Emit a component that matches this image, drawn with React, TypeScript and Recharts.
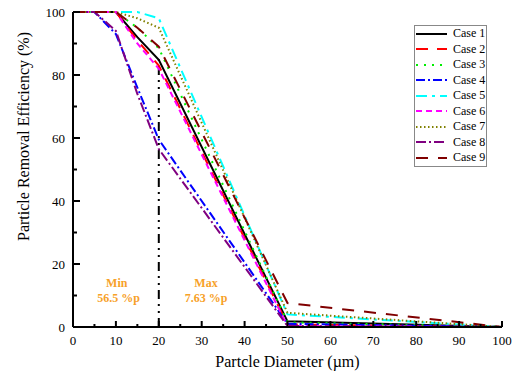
import React from "react"
import { LineChart, Line, XAxis, YAxis, Legend, ReferenceLine, ReferenceDot } from "recharts"

const DIAMETERS = [0, 5, 10, 15, 20, 50, 100]
const CASE_1 = [100, 100, 100, 92, 84.8, 1.8, 0]
const CASE_2 = [100, 100, 100, 91, 83, 0.8, 0]
const CASE_3 = [100, 100, 100, 95, 88.5, 1.5, 0]
const CASE_4 = [100, 100, 93, 76, 59.5, 1.0, 0]
const CASE_5 = [100, 100, 100, 100, 98, 4.0, 0]
const CASE_6 = [100, 100, 100, 90, 82, 0.3, 0]
const CASE_7 = [100, 100, 100, 98, 95, 4.5, 0]
const CASE_8 = [100, 100, 94, 74, 56.5, 0.3, 0]
const CASE_9 = [100, 100, 100, 95, 89, 7.6, 0]

const X_TICKS = [0, 5, 10, 15, 20, 25, 30, 35, 40, 45, 50, 55, 60, 65, 70, 75, 80, 85, 90, 95, 100]
const Y_TICKS = [0, 10, 20, 30, 40, 50, 60, 70, 80, 90, 100]

const SERIES = [
  { key: "c1", name: "Case 1", values: CASE_1, color: "#000000", dash: undefined },
  { key: "c2", name: "Case 2", values: CASE_2, color: "#ff0000", dash: "12 9" },
  { key: "c3", name: "Case 3", values: CASE_3, color: "#00ee00", dash: "2 6" },
  { key: "c4", name: "Case 4", values: CASE_4, color: "#0000ff", dash: "9 3 2 3" },
  { key: "c5", name: "Case 5", values: CASE_5, color: "#00ffff", dash: "11 5 3 5" },
  { key: "c6", name: "Case 6", values: CASE_6, color: "#ff00ff", dash: "6 4" },
  { key: "c7", name: "Case 7", values: CASE_7, color: "#808000", dash: "1.5 2.5" },
  { key: "c8", name: "Case 8", values: CASE_8, color: "#800080", dash: "10 3 2 3" },
  { key: "c9", name: "Case 9", values: CASE_9, color: "#800000", dash: "12 10" },
]

const data = DIAMETERS.map((x, i) => {
  const row: Record<string, number> = { x }
  SERIES.forEach((s) => (row[s.key] = s.values[i]))
  return row
})

const FONT = "Liberation Serif, Times New Roman, DejaVu Serif, serif"
const ORANGE = "#f7a128"

const BottomTick = (props: any) => {
  const { x, y, payload } = props
  const major = payload.value % 10 === 0
  return (
    <g>
      <line x1={x} x2={x} y1={y} y2={y - (major ? 6 : 3)} stroke="#000" strokeWidth={2} />
      {major && (
        <text x={x} y={y + 18} textAnchor="middle" fontSize={13} style={{ fontFamily: FONT }} fill="#000">
          {payload.value}
        </text>
      )}
    </g>
  )
}

const TopTick = (props: any) => {
  const { x, y, payload } = props
  const major = payload.value % 10 === 0
  return <line x1={x} x2={x} y1={y} y2={y + (major ? 6 : 3)} stroke="#000" strokeWidth={2} />
}

const LeftTick = (props: any) => {
  const { x, y, payload } = props
  const major = payload.value % 20 === 0
  return (
    <g>
      <line x1={x} x2={x + (major ? 7 : 4)} y1={y} y2={y} stroke="#000" strokeWidth={2} />
      {major && (
        <text x={x - 8} y={y + 4.5} textAnchor="end" fontSize={13} style={{ fontFamily: FONT }} fill="#000">
          {payload.value}
        </text>
      )}
    </g>
  )
}

const RightTick = (props: any) => {
  const { x, y, payload } = props
  const major = payload.value % 20 === 0
  return <line x1={x} x2={x - (major ? 7 : 4)} y1={y} y2={y} stroke="#000" strokeWidth={2} />
}

// y title sits above the plot's middle in the reference
const YTitle = (props: any) => {
  const vb = props.viewBox || { x: 0, y: 12, width: 73, height: 315 }
  const cx = vb.x + 23
  const cy = vb.y + vb.height / 2 - 33
  return (
    <text
      x={cx}
      y={cy}
      transform={`rotate(-90, ${cx}, ${cy})`}
      textAnchor="middle"
      dominantBaseline="central"
      fontSize={16}
      style={{ fontFamily: FONT }}
      fill="#000"
    >
      Particle Removal Efficiency (%)
    </text>
  )
}

const LegendBox = () => (
  <div style={{ border: "1px solid #888", background: "#fff", width: 71, fontFamily: FONT }}>
    {SERIES.map((s) => (
      <div key={s.key} style={{ display: "flex", alignItems: "center", height: 15.5, paddingLeft: 1 }}>
        <svg width={31} height={6}>
          <line x1={0} x2={31} y1={3} y2={3} stroke={s.color} strokeWidth={2} strokeDasharray={s.dash} />
        </svg>
        <span style={{ marginLeft: 6, fontSize: 12, color: "#000", lineHeight: "15px" }}>{s.name}</span>
      </div>
    ))}
  </div>
)

const noteLabel = (value: string) => ({
  value,
  position: "center" as const,
  fill: ORANGE,
  fontSize: 12,
  fontWeight: "bold",
  style: { fontFamily: FONT },
})

export default function App() {
  return (
    <div style={{ position: "absolute", left: 0, top: 0, background: "#fff", fontFamily: FONT }}>
      <LineChart
        width={521}
        height={374}
        data={data}
        margin={{ top: 12, right: 19, bottom: 0, left: 0 }}
        style={{ fontFamily: FONT }}
      >
        <XAxis
          dataKey="x"
          type="number"
          domain={[0, 100]}
          ticks={X_TICKS}
          interval={0}
          height={47}
          tickSize={0}
          tickMargin={0}
          tick={<BottomTick />}
          axisLine={{ stroke: "#000", strokeWidth: 2 }}
          label={{
            value: "Partcle Diameter (\u00b5m)",
            position: "insideBottom",
            offset: 7,
            fontSize: 16,
            fill: "#000",
            style: { fontFamily: FONT },
          }}
        />
        <XAxis
          xAxisId="top"
          orientation="top"
          dataKey="x"
          type="number"
          domain={[0, 100]}
          ticks={X_TICKS}
          interval={0}
          height={0}
          tickSize={0}
          tickMargin={0}
          tick={<TopTick />}
          axisLine={{ stroke: "#000", strokeWidth: 2 }}
        />
        <YAxis
          type="number"
          domain={[0, 100]}
          ticks={Y_TICKS}
          interval={0}
          width={73}
          tickSize={0}
          tickMargin={0}
          tick={<LeftTick />}
          axisLine={{ stroke: "#000", strokeWidth: 2 }}
          label={<YTitle />}
        />
        <YAxis
          yAxisId="right"
          orientation="right"
          type="number"
          domain={[0, 100]}
          ticks={Y_TICKS}
          interval={0}
          width={0}
          tickSize={0}
          tickMargin={0}
          tick={<RightTick />}
          axisLine={{ stroke: "#000", strokeWidth: 2 }}
        />
        <ReferenceLine
          segment={[
            { x: 20, y: 0 },
            { x: 20, y: 85 },
          ]}
          stroke="#000"
          strokeWidth={2}
          strokeDasharray="9 5 2 5 2 5"
        />
        <ReferenceDot x={10.2} y={14.0} r={0} label={noteLabel("Min")} />
        <ReferenceDot x={10.6} y={9.2} r={0} label={noteLabel("56.5 %p")} />
        <ReferenceDot x={31.0} y={14.0} r={0} label={noteLabel("Max")} />
        <ReferenceDot x={31.0} y={9.2} r={0} label={noteLabel("7.63 %p")} />
        {SERIES.map((s) => (
          <Line
            key={s.key}
            type="linear"
            dataKey={s.key}
            name={s.name}
            stroke={s.color}
            strokeWidth={2}
            strokeDasharray={s.dash}
            dot={false}
            isAnimationActive={false}
          />
        ))}
        <Legend
          layout="vertical"
          align="center"
          verticalAlign="middle"
          content={<LegendBox />}
          wrapperStyle={{ left: 414, top: 25, width: 73 }}
        />
      </LineChart>
    </div>
  )
}
